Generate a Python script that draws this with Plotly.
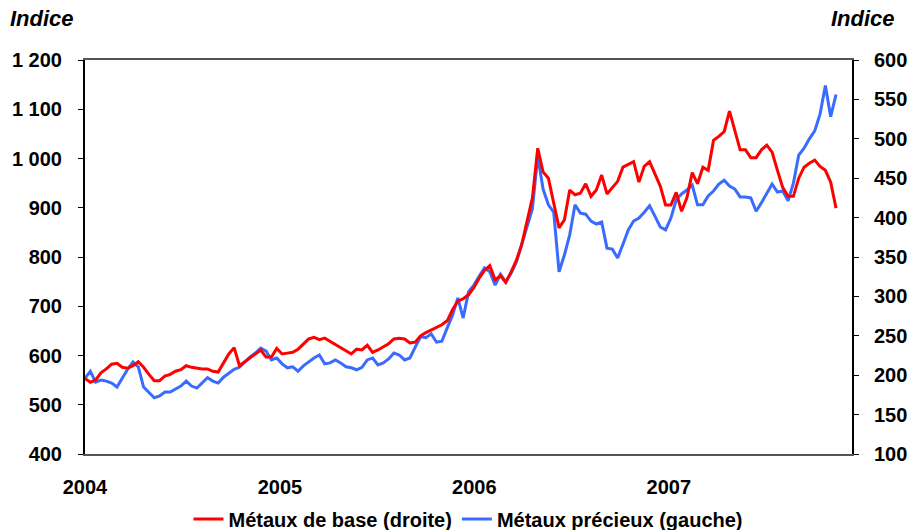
import pandas as pd
import plotly.graph_objects as go

# 10-day sampling grid, Jan 2004 -> mid Nov 2007
dates = pd.date_range("2004-01-01", periods=142, freq="10D")

# Métaux précieux (left axis)
precieux = [
    554, 568, 546, 550, 548, 544, 536, 554, 572, 587,
    577, 536, 524, 514, 518, 526, 526, 532, 538, 548,
    538, 534, 544, 555, 548, 544, 556, 564, 572, 576,
    587, 597, 605, 615, 609, 591, 595, 583, 575, 577,
    568, 579, 587, 595, 601, 583, 585, 591, 585, 577,
    575, 571, 576, 591, 595, 581, 585, 593, 605, 601,
    591, 595, 617, 638, 636, 644, 627, 629, 656, 682,
    717, 676, 729, 743, 761, 778, 770, 743, 765, 749,
    767, 790, 826, 861, 898, 1005, 938, 906, 891, 770,
    804, 845, 906, 889, 887, 873, 867, 871, 818, 816,
    798, 826, 855, 873, 879, 891, 904, 883, 861, 855,
    879, 916, 928, 936, 946, 906, 906, 924, 934, 948,
    956, 944, 938, 922, 922, 920, 893, 910, 930, 948,
    932, 934, 914, 950, 1007, 1021, 1040, 1056, 1090, 1148,
    1085, 1130,
]

# Métaux de base (right axis)
base = [
    196, 191, 194, 203, 208, 214, 215, 210, 209, 212,
    217, 210, 201, 193, 193, 199, 201, 205, 207, 212,
    210, 209, 208, 208, 205, 204, 215, 227, 235, 212,
    217, 222, 226, 232, 223, 223, 234, 227, 228, 229,
    233, 240, 246, 248, 245, 247, 243, 238, 234, 231,
    227, 233, 232, 238, 229, 232, 236, 240, 246, 247,
    246, 241, 242, 250, 254, 257, 260, 264, 269, 283,
    294, 297, 302, 311, 323, 333, 339, 321, 326, 318,
    331, 346, 366, 394, 425, 488, 458, 450, 418, 387,
    397, 435, 429, 431, 443, 427, 435, 454, 430, 438,
    446, 464, 467, 471, 445, 465, 471, 455, 440, 416,
    416, 432, 408, 425, 457, 443, 464, 460, 498, 503,
    509, 535, 511, 486, 486, 476, 476, 486, 492, 483,
    460, 438, 427, 427, 450, 464, 469, 473, 465, 460,
    445, 412,
]

left_ticks = [400, 500, 600, 700, 800, 900, 1000, 1100, 1200]
left_labels = ["400", "500", "600", "700", "800", "900", "1 000", "1 100", "1 200"]
right_ticks = [100, 150, 200, 250, 300, 350, 400, 450, 500, 550, 600]
year_ticks = ["2004-01-01", "2005-01-01", "2006-01-01", "2007-01-01"]
year_labels = ["2004", "2005", "2006", "2007"]

FONT = "Liberation Sans, Arial, sans-serif"
FS = 20

fig = go.Figure()
fig.add_trace(go.Scatter(
    x=dates, y=base, name="Métaux de base (droite)", yaxis="y2",
    mode="lines", line=dict(color="#ff0000", width=3),
))
fig.add_trace(go.Scatter(
    x=dates, y=precieux, name="Métaux précieux (gauche)", yaxis="y",
    mode="lines", line=dict(color="#3a6bff", width=3),
))

fig.update_layout(
    width=909, height=530,
    margin=dict(l=85, r=57, t=60, b=76, autoexpand=False),
    paper_bgcolor="white", plot_bgcolor="white",
    font=dict(family=FONT, size=FS, color="black"),
    showlegend=True,
    legend=dict(orientation="h", x=0.5, xanchor="center", y=-0.165, yanchor="middle",
                font=dict(size=FS, family=FONT, color="black", weight="bold"),
                itemwidth=30, tracegroupgap=0, bgcolor="rgba(0,0,0,0)"),
    xaxis=dict(
        type="date", range=["2004-01-01", "2007-12-11"], automargin=False,
        tickvals=year_ticks, ticktext=year_labels,
        showgrid=False, zeroline=False,
        showline=True, linecolor="#555555", linewidth=1.5, mirror=True,
        ticks="", ticklabelstandoff=14,
        tickfont=dict(size=FS, family=FONT, weight="bold"),
    ),
    yaxis=dict(
        range=[400, 1200], tickvals=left_ticks, ticktext=left_labels, automargin=False,
        showgrid=False, zeroline=False,
        showline=True, linecolor="black", linewidth=2,
        ticks="outside", ticklen=5, tickwidth=1, tickcolor="black",
        ticklabelstandoff=12,
        tickfont=dict(size=FS, family=FONT, weight="bold"),
    ),
    yaxis2=dict(
        range=[100, 600], tickvals=right_ticks, automargin=False,
        overlaying="y", side="right",
        showgrid=False, zeroline=False,
        showline=True, linecolor="black", linewidth=2,
        ticks="outside", ticklen=5, tickwidth=1, tickcolor="black",
        ticklabelstandoff=11,
        tickfont=dict(size=FS, family=FONT, weight="bold"),
    ),
    annotations=[
        dict(text="<b><i>Indice</i></b>", xref="paper", yref="paper",
             x=-77/767, y=1 + 42/394, xanchor="left", yanchor="middle",
             showarrow=False, font=dict(size=22, family=FONT, color="black")),
        dict(text="<b><i>Indice</i></b>", xref="paper", yref="paper",
             x=1 + 45/767, y=1 + 42/394, xanchor="right", yanchor="middle",
             showarrow=False, font=dict(size=22, family=FONT, color="black")),
    ],
)

fig.write_html(
    "out.html",
    config={"displayModeBar": False},
    post_script="document.body.style.margin='0';document.body.style.overflow='hidden';",
)
